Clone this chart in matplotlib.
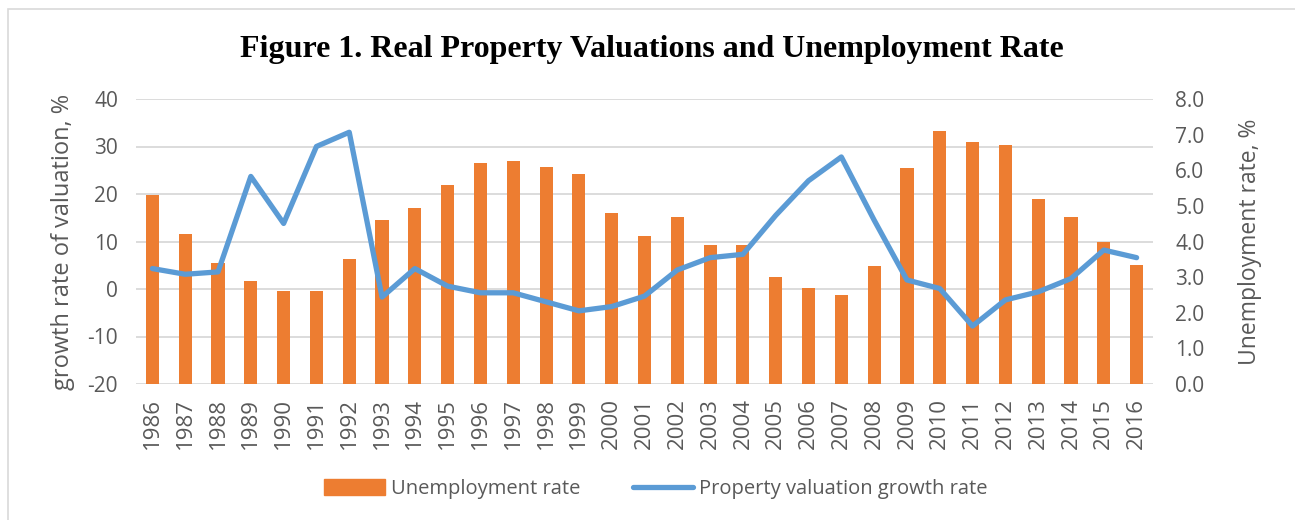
import matplotlib
matplotlib.use("Agg")
import matplotlib.pyplot as plt
from matplotlib.patches import Rectangle
from matplotlib.lines import Line2D
import numpy as np

years = [str(y) for y in range(1986, 2017)]
unemployment = [5.3, 4.2, 3.4, 2.9, 2.6, 2.6, 3.5, 4.6, 4.95, 5.6, 6.2, 6.25, 6.1, 5.9,
                4.8, 4.15, 4.7, 3.9, 3.9, 3.0, 2.7, 2.5, 3.3, 6.05, 7.1, 6.8, 6.7, 5.2,
                4.7, 4.0, 3.35]
valuation = [4.3, 3.1, 3.6, 23.7, 13.8, 30.0, 33.0, -1.7, 4.3, 0.6, -0.8, -0.8, -2.7, -4.6,
             -3.7, -1.5, 4.0, 6.6, 7.3, 15.5, 22.8, 27.8, 14.5, 1.9, 0.1, -7.8, -2.3, -0.6,
             2.2, 8.2, 6.6]
left_ticks = [-20, -10, 0, 10, 20, 30, 40]
right_ticks = [0, 1, 2, 3, 4, 5, 6, 7, 8]

ORANGE = "#ED7D31"
BLUE = "#5B9BD5"
GRID = "#D9D9D9"
TXT = "#595959"
FONT = ["Open Sans", "DejaVu Sans"]

W, H = 1295, 520
fig = plt.figure(figsize=(W / 100, H / 100), dpi=100)

# chart border (left and top edges visible)
fig.patches.append(Rectangle((8 / W, -0.1), 1.2, (H - 9) / H + 0.1, transform=fig.transFigure,
                             fill=False, edgecolor="#D9D9D9", linewidth=1.2))

x0, x1, y0, y1 = 136, 1153, 99, 384
ax = fig.add_axes([x0 / W, 1 - y1 / H, (x1 - x0) / W, (y1 - y0) / H])
ax2 = ax.twinx()

x = np.arange(len(years))
ax2.bar(x, unemployment, width=0.4, color=ORANGE, zorder=2)
ax.plot(x, valuation, color=BLUE, linewidth=3.8, solid_joinstyle="round",
        solid_capstyle="round", zorder=5)

# put line axis above bar axis
ax.set_zorder(ax2.get_zorder() + 1)
ax.patch.set_visible(False)

ax.set_ylim(-20, 40)
ax2.set_ylim(0, 8)
ax.set_xlim(-0.5, len(years) - 0.5)
ax.set_yticks(left_ticks)
ax.set_yticklabels([str(v) for v in left_ticks])
ax2.set_yticks(right_ticks)
ax2.set_yticklabels([f"{v:.1f}" for v in right_ticks])

for v in left_ticks:
    ax2.axhline((v + 20) / 7.5, color=GRID, linewidth=1.3, zorder=0)

ax.set_xticks(x)
ax.set_xticklabels(years, rotation=90)

for a in (ax, ax2):
    for s in a.spines.values():
        s.set_visible(False)
    a.tick_params(length=0, colors=TXT, labelsize=15)
    for lbl in a.get_xticklabels() + a.get_yticklabels():
        lbl.set_fontfamily(FONT)
ax.tick_params(axis="x", labelsize=16, pad=10)
ax.tick_params(axis="y", pad=13)
ax2.tick_params(axis="y", pad=16)

ax.set_ylabel("growth rate of valuation, %", fontsize=17, color=TXT, family=FONT, labelpad=9)
ax2.set_ylabel("Unemployment rate, %", fontsize=16.5, color=TXT, family=FONT, labelpad=24)

fig.text(652 / W, 1 - 50 / H, "Figure 1. Real Property Valuations and Unemployment Rate",
         ha="center", va="center", fontsize=23, fontweight="bold",
         family=["Liberation Serif", "DejaVu Serif"], color="black")

handles = [Rectangle((0, 0), 1, 1, color=ORANGE),
           Line2D([0], [0], color=BLUE, linewidth=3.8, solid_capstyle="round")]
fig.legend(handles, ["Unemployment rate", "Property valuation growth rate"],
           loc="center", bbox_to_anchor=(656 / W, 1 - 489 / H), ncol=2, frameon=False,
           prop={"family": FONT, "size": 14.5}, labelcolor=TXT, handlelength=3.0,
           handleheight=0.8, columnspacing=2.6, handletextpad=0.3)

fig.savefig("out.png", dpi=100, facecolor="white")
